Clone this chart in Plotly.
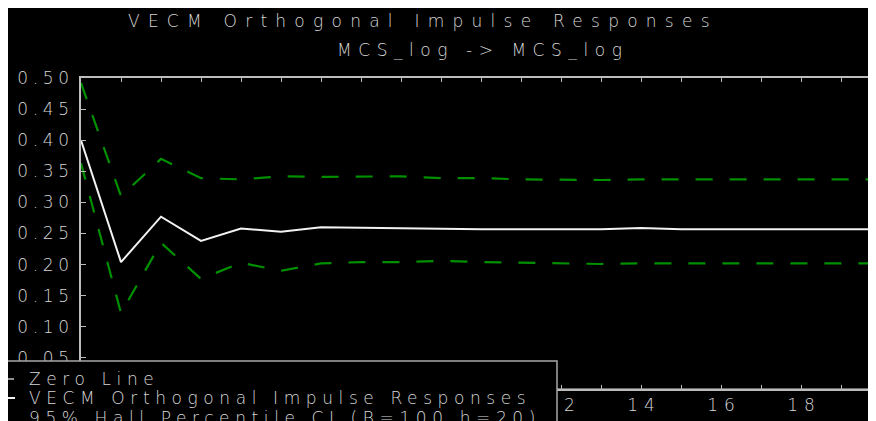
import plotly.graph_objects as go

# ---- data ----
horizon = list(range(21))
irf = [0.400, 0.204, 0.277, 0.238, 0.258, 0.253, 0.260, 0.259, 0.259, 0.258, 0.257,
       0.257, 0.257, 0.257, 0.259, 0.257, 0.257, 0.257, 0.257, 0.257, 0.257]
ci_upper = [0.492, 0.310, 0.370, 0.339, 0.337, 0.342, 0.341, 0.341, 0.342, 0.339, 0.339,
            0.337, 0.336, 0.336, 0.337, 0.337, 0.336, 0.337, 0.337, 0.337, 0.337]
ci_lower = [0.363, 0.122, 0.235, 0.177, 0.203, 0.190, 0.202, 0.204, 0.204, 0.206, 0.204,
            0.203, 0.201, 0.201, 0.202, 0.202, 0.203, 0.203, 0.203, 0.202, 0.202]
zero_line = [0.0] * 21

y_ticks = [0.00, 0.05, 0.10, 0.15, 0.20, 0.25, 0.30, 0.35, 0.40, 0.45, 0.50]
y_labels = ["0.00", "0.05", "0.10", "0.15", "0.20", "0.25", "0.30", "0.35", "0.40", "0.45", "0.50"]
x_ticks = list(range(21))
x_labels = [str(v) if v % 2 == 0 else "" for v in x_ticks]

title_text = "VECM Orthogonal Impulse Responses"
subtitle_text = "MCS_log -> MCS_log"
legend_names = ["Zero Line", "VECM Orthogonal Impulse Responses",
                "95% Hall Percentile CI (B=100 h=20)"]

# ---- layout geometry (the page body adds an 8px margin all round) ----
OFF = 8
W, H = 876 - 2 * OFF, 421 - OFF
ML, MT, MB = 81 - OFF, 78 - OFF, 32
PW = W - ML
PH = H - MT - MB
X_MAX = PW / 40.0  # 40 px per period
LEG_RIGHT = 557     # legend box right edge (window px)

TXT = "#d6d6d6"
AX = "#bcbcbc"
FONT = "DejaVu Sans"


def px(xw):
    return (xw - OFF - ML) / PW


def py(yw):
    return (H - MB - (yw - OFF)) / PH


def spaced(s, ls):
    return f'<span style="letter-spacing:{ls}px">{s}</span>' if s else ""


# tick labels lying completely under the legend box are hidden by it
x_shown = [lab if (ML + OFF + v * 40 + 14) > LEG_RIGHT else "" for v, lab in zip(x_ticks, x_labels)]

fig = go.Figure()
fig.add_trace(go.Scatter(x=horizon, y=zero_line, mode="lines", name=legend_names[0],
                         line=dict(color="#909090", width=1.5), showlegend=False))
fig.add_trace(go.Scatter(x=horizon, y=ci_upper, mode="lines", name=legend_names[2],
                         line=dict(color="#009000", width=2.2, dash="17px,17px"), showlegend=False))
fig.add_trace(go.Scatter(x=horizon, y=ci_lower, mode="lines", name=legend_names[2],
                         line=dict(color="#009000", width=2.2, dash="17px,17px"), showlegend=False))
fig.add_trace(go.Scatter(x=horizon, y=irf, mode="lines", name=legend_names[1],
                         line=dict(color="#f2f2f2", width=2), showlegend=False))

tickfont = dict(family=FONT, size=17, color=TXT, weight=200)

fig.update_xaxes(range=[0, X_MAX], tickvals=x_ticks,
                 ticktext=[spaced(t, 6) for t in x_shown], ticklabelshift=3,
                 ticks="inside", ticklen=4, tickwidth=1.2, tickcolor=AX,
                 showline=True, linecolor=AX, linewidth=1.6, mirror="ticks",
                 showgrid=False, zeroline=False, tickfont=tickfont)
fig.update_yaxes(range=[0, 0.5], tickvals=y_ticks,
                 ticktext=[spaced(t, 4.7) for t in y_labels], ticklabelstandoff=2,
                 ticks="inside", ticklen=5, tickwidth=1.2, tickcolor=AX,
                 showline=True, linecolor=AX, linewidth=1.6, mirror=False,
                 showgrid=False, zeroline=False, tickfont=tickfont)

shapes = [
    # legend box
    dict(type="rect", xref="paper", yref="paper", x0=px(7), x1=px(LEG_RIGHT), y0=py(361), y1=py(430),
         fillcolor="black", line=dict(color="#a8a8a8", width=1.5), layer="above"),
    dict(type="line", xref="paper", yref="paper", x0=px(8), x1=px(14), y0=py(379), y1=py(379),
         line=dict(color="#909090", width=2), layer="above"),
    dict(type="line", xref="paper", yref="paper", x0=px(8), x1=px(15), y0=py(398), y1=py(398),
         line=dict(color="#f2f2f2", width=2), layer="above"),
]

big = dict(family=FONT, size=17, color=TXT, weight=200)
annotations = [
    dict(text=spaced(title_text, 8.25), xref="paper", yref="paper", x=px(422.6), y=py(21),
         xanchor="center", yanchor="middle", showarrow=False, font=big),
    dict(text=spaced(subtitle_text, 6.55), xref="paper", yref="paper", x=px(482.3), y=py(50),
         xanchor="center", yanchor="middle", showarrow=False, font=big),
]
leg_y = [379, 398, 418]
for name, yy in zip(legend_names, leg_y):
    annotations.append(dict(text=spaced(name, 5.6), xref="paper", yref="paper", x=px(27), y=py(yy),
                            xanchor="left", yanchor="middle", showarrow=False, font=big))

fig.update_layout(width=W, height=H, margin=dict(l=ML, r=0, t=MT, b=MB, pad=0),
                  paper_bgcolor="black", plot_bgcolor="black",
                  shapes=shapes, annotations=annotations, showlegend=False)

fig.write_html("out.html")
